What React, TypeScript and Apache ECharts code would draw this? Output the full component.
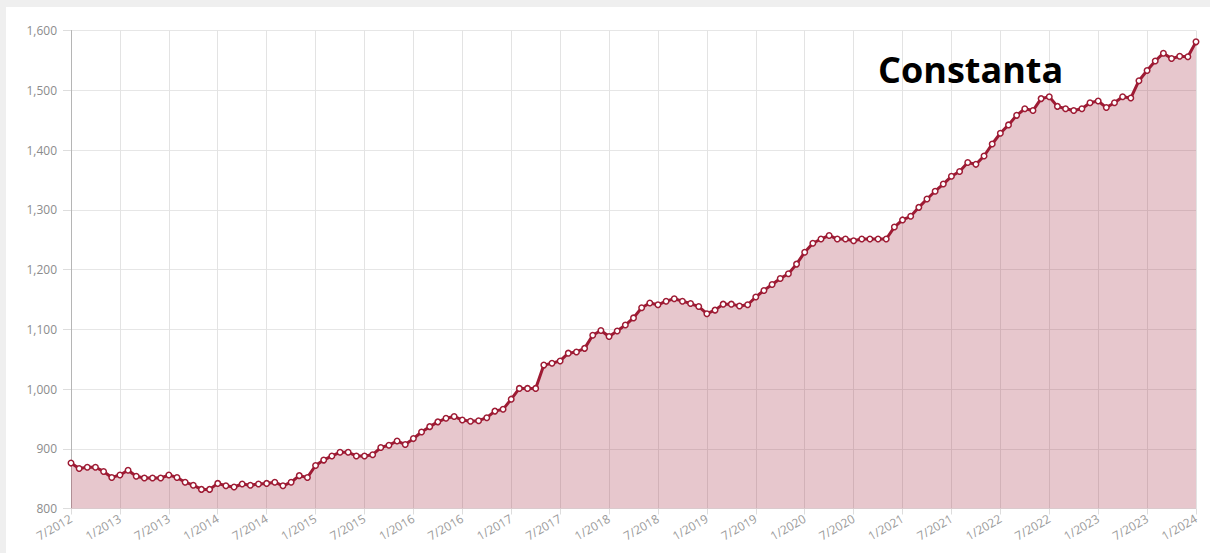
import React, { useEffect, useRef } from "react";
import * as echarts from "echarts";

const START_MONTH = 7;
const START_YEAR = 2012;

const values: number[] = [
  876, 867, 869, 869, 862, 852, 856, 864, 854, 851, 851, 851,
  856, 852, 844, 839, 832, 832, 842, 838, 836, 841, 839, 841,
  842, 844, 838, 844, 855, 852, 872, 881, 888, 894, 894, 888,
  888, 890, 902, 906, 913, 907, 917, 928, 937, 945, 951, 954,
  948, 946, 947, 952, 963, 966, 983, 1001, 1001, 1001, 1040, 1043,
  1047, 1060, 1062, 1068, 1090, 1098, 1088, 1097, 1107, 1119, 1136, 1144,
  1141, 1147, 1151, 1147, 1143, 1138, 1126, 1132, 1142, 1142, 1139, 1141,
  1154, 1165, 1175, 1185, 1193, 1209, 1229, 1244, 1251, 1257, 1251, 1251,
  1248, 1251, 1251, 1251, 1251, 1271, 1283, 1289, 1304, 1318, 1331, 1343,
  1356, 1364, 1379, 1376, 1390, 1410, 1428, 1442, 1458, 1469, 1466, 1486,
  1489, 1473, 1469, 1466, 1469, 1479, 1482, 1471, 1479, 1489, 1487, 1516,
  1533, 1549, 1562, 1553, 1557, 1556, 1581,
];

const categories: string[] = values.map((_, i) => {
  const m0 = START_MONTH - 1 + i;
  const m = (m0 % 12) + 1;
  const y = START_YEAR + Math.floor(m0 / 12);
  return `${m}/${y}`;
});

const TITLE = "Constanta";
const LINE_COLOR = "#9e1b34";

export default function App() {
  const ref = useRef<HTMLDivElement>(null);
  useEffect(() => {
    if (!ref.current) return;
    const chart = echarts.init(ref.current, undefined, { renderer: "svg" });
    chart.setOption({
      animation: false,
      backgroundColor: "#ffffff",
      grid: { left: 65, right: 14, top: 23.5, bottom: 44.5, containLabel: false },
      xAxis: {
        type: "category",
        data: categories,
        boundaryGap: false,
        axisLine: { show: true, lineStyle: { color: "#e3e3e3", width: 1 } },
        axisTick: { show: true, interval: 5, length: 6, lineStyle: { color: "#dddddd" } },
        splitLine: { show: true, interval: 5, lineStyle: { color: "#e3e3e3", width: 1 } },
        axisLabel: {
          interval: 5,
          rotate: 30,
          margin: 9,
          color: "#9a9a9a",
          fontSize: 12,
          fontFamily: "Open Sans",
        },
      },
      yAxis: {
        type: "value",
        min: 800,
        max: 1600,
        interval: 100,
        axisLine: { show: true, lineStyle: { color: "#b5b5b5", width: 1 } },
        axisTick: { show: true, length: 8, lineStyle: { color: "#dddddd" } },
        splitLine: { show: true, lineStyle: { color: "#e6e6e6", width: 1 } },
        axisLabel: {
          margin: 14,
          color: "#8c8c8c",
          fontSize: 12,
          fontFamily: "Open Sans",
          formatter: (v: number) => v.toLocaleString("en-US"),
        },
      },
      series: [
        {
          type: "line",
          data: values,
          symbol: "circle",
          symbolSize: 5.5,
          showSymbol: true,
          showAllSymbol: true,
          lineStyle: { color: LINE_COLOR, width: 3 },
          itemStyle: { color: "#ffffff", borderColor: LINE_COLOR, borderWidth: 1.5 },
          areaStyle: { color: "rgba(160,30,55,0.25)", opacity: 1 },
          z: 3,
        },
      ],
      graphic: [
        {
          type: "text",
          left: 872,
          top: 44,
          z: 10,
          style: {
            text: TITLE,
            fill: "#000000",
            fontSize: 36,
            fontWeight: "bold",
            fontFamily: "Open Sans",
          },
        },
      ],
    });
    return () => chart.dispose();
  }, []);

  return (
    <div
      style={{
        position: "fixed",
        left: 0,
        top: 0,
        width: 1210,
        height: 553,
        background: "#efefef",
        overflow: "hidden",
      }}
    >
      <div
        ref={ref}
        style={{ position: "absolute", left: 6, top: 7, width: 1204, height: 546, background: "#ffffff" }}
      />
    </div>
  );
}
